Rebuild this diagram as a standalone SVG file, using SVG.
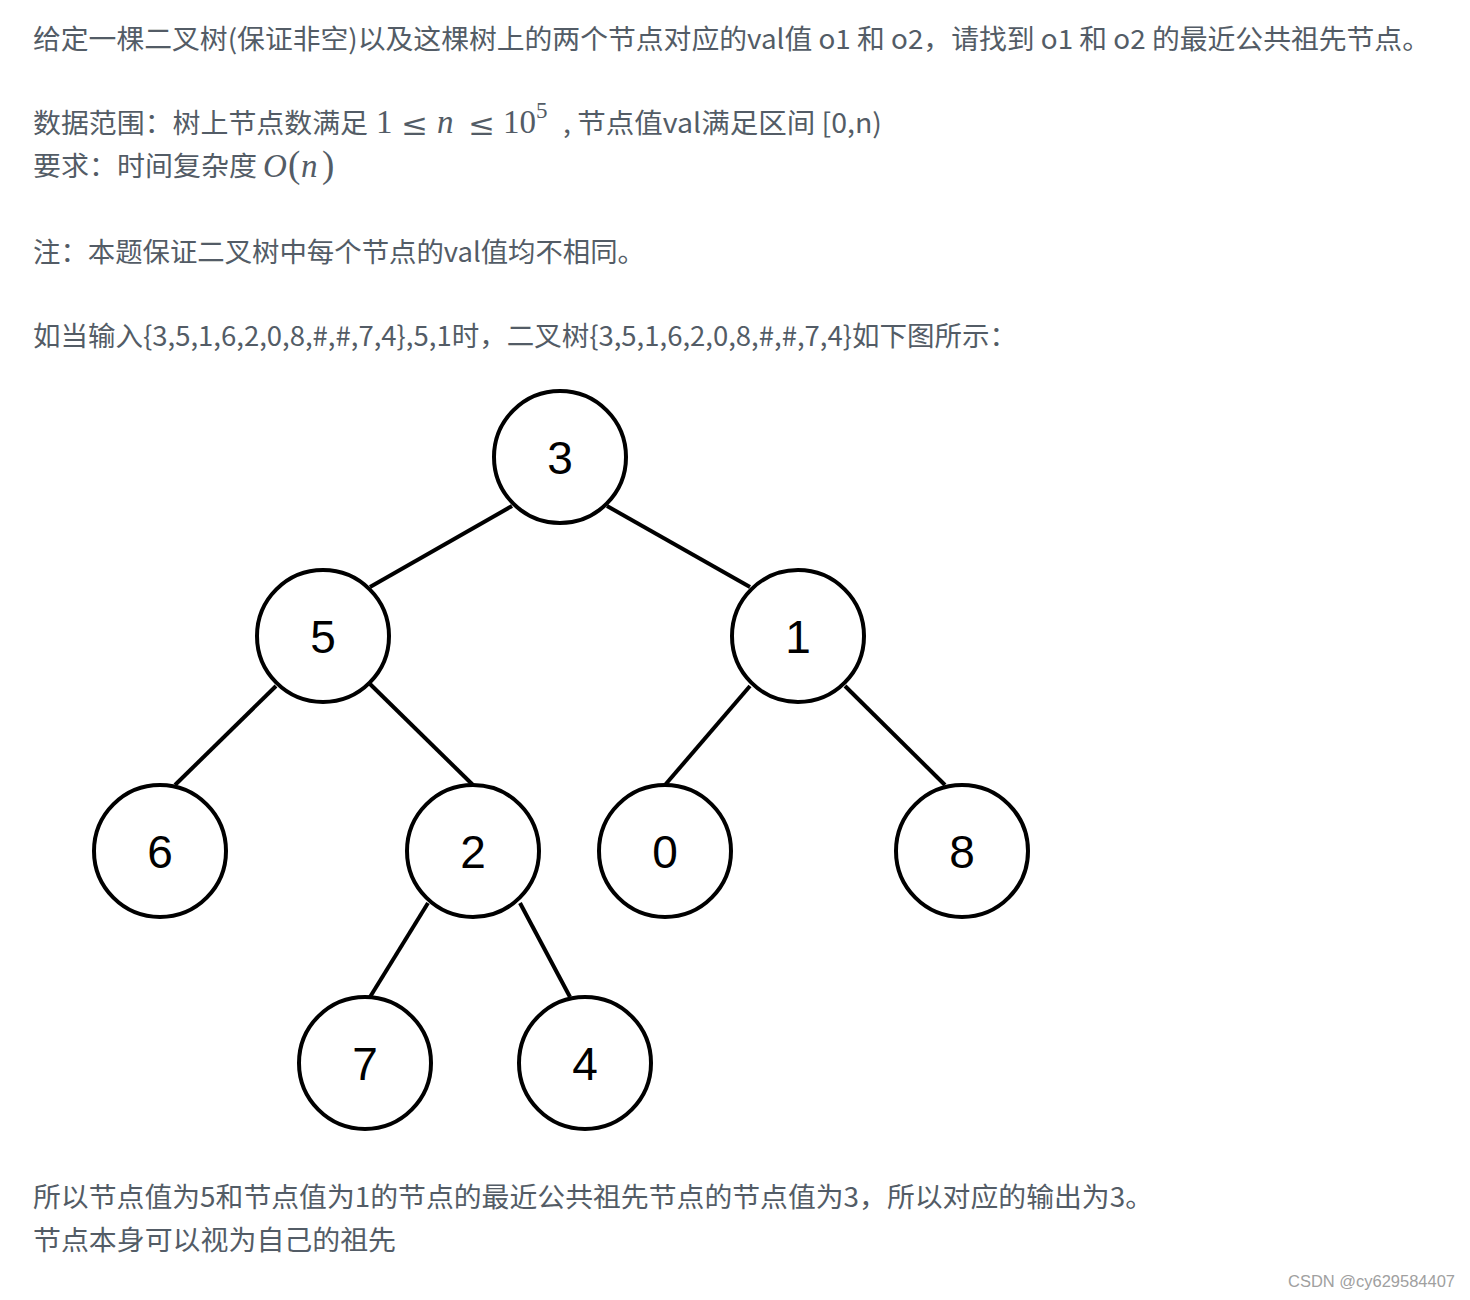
<svg xmlns="http://www.w3.org/2000/svg" width="1470" height="1300" viewBox="0 0 1470 1300">
<style>
.t{font-family:"Noto Sans CJK SC","Noto Sans",sans-serif;font-size:27px;fill:#535c66}
.m{font-family:"Liberation Serif","DejaVu Serif",serif;font-size:33px;fill:#535c66}
.le{font-family:"DejaVu Serif",serif;font-size:30px;fill:#535c66}
.mi{font-style:italic}
.nc{fill:#fff;stroke:#000;stroke-width:4}
.nt{font-family:"Liberation Sans",Arial,sans-serif;font-size:46px;fill:#000;text-anchor:middle}
.e{stroke:#000;stroke-width:4;fill:none}
.wm{font-family:"Liberation Sans",Arial,sans-serif;font-size:16px;fill:#a0a0a0}
</style>
<rect width="1470" height="1300" fill="#fff"/>
<g id="text">
<text class="t" x="33" y="49" textLength="1397" lengthAdjust="spacingAndGlyphs">给定一棵二叉树(保证非空)以及这棵树上的两个节点对应的val值 o1 和 o2，请找到 o1 和 o2 的最近公共祖先节点。</text>
<text class="t" x="33" y="133" textLength="335" lengthAdjust="spacingAndGlyphs">数据范围：树上节点数满足</text>
<text class="m" x="376" y="133">1</text>
<text class="le" x="401" y="135" textLength="27" lengthAdjust="spacingAndGlyphs">≤</text>
<text class="m mi" x="437" y="133">n</text>
<text class="le" x="468" y="135" textLength="27" lengthAdjust="spacingAndGlyphs">≤</text>
<text class="m" x="503" y="133">10</text>
<text class="m" x="536" y="118" style="font-size:23px">5</text>
<text class="t" x="563" y="133" textLength="319" lengthAdjust="spacingAndGlyphs">, 节点值val满足区间 [0,n)</text>
<text class="t" x="33" y="176" textLength="224" lengthAdjust="spacingAndGlyphs">要求：时间复杂度</text>
<text class="m mi" x="263" y="177">O</text>
<text class="m" x="288" y="177" style="font-size:37px">(</text>
<text class="m mi" x="301" y="177">n</text>
<text class="m" x="322" y="177" style="font-size:37px">)</text>
<text class="t" x="33" y="262" textLength="612" lengthAdjust="spacingAndGlyphs">注：本题保证二叉树中每个节点的val值均不相同。</text>
<text class="t" x="33" y="346" textLength="984" lengthAdjust="spacingAndGlyphs">如当输入{3,5,1,6,2,0,8,#,#,7,4},5,1时，二叉树{3,5,1,6,2,0,8,#,#,7,4}如下图所示：</text>
<text class="t" x="33" y="1207" textLength="1120" lengthAdjust="spacingAndGlyphs">所以节点值为5和节点值为1的节点的最近公共祖先节点的节点值为3，所以对应的输出为3。</text>
<text class="t" x="33" y="1250" textLength="363" lengthAdjust="spacingAndGlyphs">节点本身可以视为自己的祖先</text>
<text class="wm" x="1288" y="1287" textLength="167" lengthAdjust="spacingAndGlyphs">CSDN @cy629584407</text>
</g>
<g id="connectors">
<line class="e" x1="512" y1="506" x2="370" y2="587"/>
<line class="e" x1="607" y1="506" x2="750" y2="587"/>
<line class="e" x1="276" y1="686" x2="175" y2="785"/>
<line class="e" x1="370" y1="684" x2="473" y2="785"/>
<line class="e" x1="750" y1="686" x2="665" y2="785"/>
<line class="e" x1="845" y1="686" x2="945" y2="785"/>
<line class="e" x1="428" y1="903" x2="370" y2="997"/>
<line class="e" x1="520" y1="903" x2="570" y2="997"/>
</g>
<g id="node-3"><circle class="nc" cx="560" cy="457" r="66"/><text class="nt" x="560" y="474">3</text></g>
<g id="node-5"><circle class="nc" cx="323" cy="636" r="66"/><text class="nt" x="323" y="653">5</text></g>
<g id="node-1"><circle class="nc" cx="798" cy="636" r="66"/><text class="nt" x="798" y="653">1</text></g>
<g id="node-6"><circle class="nc" cx="160" cy="851" r="66"/><text class="nt" x="160" y="868">6</text></g>
<g id="node-2"><circle class="nc" cx="473" cy="851" r="66"/><text class="nt" x="473" y="868">2</text></g>
<g id="node-0"><circle class="nc" cx="665" cy="851" r="66"/><text class="nt" x="665" y="868">0</text></g>
<g id="node-8"><circle class="nc" cx="962" cy="851" r="66"/><text class="nt" x="962" y="868">8</text></g>
<g id="node-7"><circle class="nc" cx="365" cy="1063" r="66"/><text class="nt" x="365" y="1080">7</text></g>
<g id="node-4"><circle class="nc" cx="585" cy="1063" r="66"/><text class="nt" x="585" y="1080">4</text></g>
</svg>
